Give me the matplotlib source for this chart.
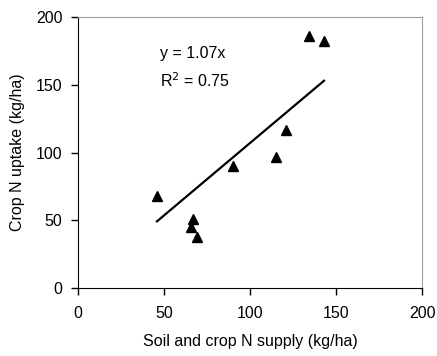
import matplotlib
matplotlib.use("Agg")
import matplotlib.pyplot as plt
import numpy as np

plt.rcParams['font.family'] = ['Liberation Sans', 'DejaVu Sans']

supply = [46, 67, 66, 69, 90, 115, 121, 134, 143]
uptake = [68, 51, 45, 38, 90, 97, 117, 186, 182]
slope = 1.07
fit_x = [46, 143]
eq_text = "y = 1.07x"
r2_text = "R$^2$ = 0.75"

fs = 11.5
fig = plt.figure(figsize=(4.37, 3.56), dpi=100)
ax = fig.add_axes([0.178, 0.191, 0.788, 0.761])

ax.plot(supply, uptake, linestyle='none', marker='^', color='black', markersize=7.5)
ax.plot(fit_x, [slope * v for v in fit_x], color='black', linewidth=1.6)

ax.set_xlim(0, 200)
ax.set_ylim(0, 200)
ax.set_xticks([0, 50, 100, 150, 200])
ax.set_yticks([0, 50, 100, 150, 200])
ax.tick_params(direction='out', length=5, width=1, labelsize=fs)
ax.tick_params(axis='x', pad=8)
ax.tick_params(axis='y', pad=6)
for s in ['top', 'right']:
    ax.spines[s].set_color('#a0a0a0')
for s in ['left', 'bottom']:
    ax.spines[s].set_color('black')
ax.set_xlabel('Soil and crop N supply (kg/ha)', fontsize=fs, labelpad=9)
ax.set_ylabel('Crop N uptake (kg/ha)', fontsize=fs, labelpad=8)

ax.text(47.5, 173, eq_text, fontsize=fs, va='center', ha='left')
ax.text(47.5, 153, r2_text, fontsize=fs, va='center', ha='left')

fig.savefig('out.png', dpi=100)
